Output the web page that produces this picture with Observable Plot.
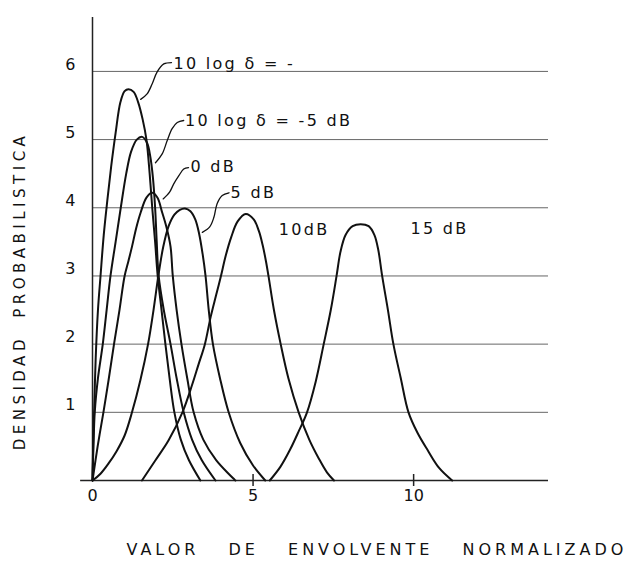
<!DOCTYPE html>
<html><head><meta charset="utf-8">
<script src="https://cdn.jsdelivr.net/npm/d3@7"></script>
<script src="https://cdn.jsdelivr.net/npm/@observablehq/plot@0.6"></script>
<style>
html,body{margin:0;padding:0;background:#fff;}
#chart svg{display:block;}
text{white-space:pre;}
.ytitle text{letter-spacing:4.5px;word-spacing:8px;}
.xtitle text{letter-spacing:4px;word-spacing:20px;}
.clabel text{letter-spacing:2.3px;}
</style></head><body><div id="chart"></div><script>
// ---- data ----
const seriesNames = ["-inf dB", "-5 dB", "0 dB", "5 dB", "10 dB", "15 dB"];

const xInf = [0,0.02,0.05,0.1,0.17,0.25,0.35,0.46,0.58,0.72,0.87,1.0,1.12,1.28,1.42,1.56,1.68,1.78,1.86,1.95,2.03,2.15,2.27,2.4,2.55,2.75,3.0,3.36];
const yInf = [0,0.5,1.0,1.8,2.5,3.0,3.6,4.1,4.6,5.1,5.55,5.71,5.74,5.7,5.55,5.3,5.0,4.5,4.0,3.5,3.0,2.5,2.0,1.5,1.0,0.6,0.3,0];

const xM5 = [0,0.03,0.07,0.17,0.32,0.44,0.56,0.72,0.88,1.05,1.2,1.38,1.55,1.7,1.8,1.88,1.95,2.0,2.06,2.22,2.43,2.62,2.84,3.1,3.4,3.83];
const yM5 = [0,0.5,1.0,1.5,2.0,2.5,3.0,3.5,4.0,4.5,4.82,5.0,5.04,4.95,4.75,4.45,4.0,3.5,3.0,2.5,2.0,1.5,1.0,0.6,0.3,0];

const x0 = [0,0.16,0.34,0.5,0.67,0.84,1.0,1.12,1.23,1.36,1.5,1.68,1.86,2.02,2.17,2.3,2.43,2.5,2.62,2.77,2.95,3.15,3.45,3.85,4.45];
const y0 = [0,0.5,1.0,1.47,2.0,2.5,3.0,3.22,3.43,3.7,3.93,4.15,4.22,4.15,3.93,3.72,3.43,3.0,2.5,2.0,1.5,1.0,0.6,0.3,0];

const x5 = [0,0.25,0.5,0.75,1.0,1.23,1.49,1.73,1.9,2.05,2.2,2.37,2.55,2.72,2.88,3.05,3.2,3.32,3.43,3.52,3.62,3.75,3.97,4.24,4.6,5.0,5.38];
const y5 = [0,0.1,0.25,0.43,0.66,1.0,1.47,2.0,2.5,3.0,3.42,3.73,3.9,3.97,3.99,3.95,3.83,3.62,3.32,3.0,2.5,2.0,1.5,1.0,0.55,0.22,0];

const x10 = [1.54,1.95,2.37,2.8,3.1,3.3,3.5,3.68,3.85,4.0,4.15,4.32,4.52,4.77,5.02,5.18,5.3,5.4,5.48,5.65,5.86,6.1,6.42,6.75,7.05,7.3,7.52];
const y10 = [0,0.29,0.59,1.0,1.4,1.7,2.0,2.4,2.72,3.0,3.3,3.57,3.8,3.91,3.83,3.66,3.45,3.22,3.0,2.5,2.0,1.5,1.0,0.6,0.32,0.12,0];

const x15 = [5.52,5.85,6.15,6.42,6.68,6.95,7.2,7.42,7.6,7.72,7.88,8.1,8.35,8.6,8.78,8.9,9.02,9.2,9.37,9.6,9.84,10.12,10.43,10.8,11.2];
const y15 = [0,0.2,0.45,0.72,1.0,1.45,2.0,2.5,3.0,3.35,3.6,3.73,3.76,3.73,3.6,3.38,3.0,2.5,2.0,1.5,1.0,0.7,0.45,0.18,0];

const yTicks = [1, 2, 3, 4, 5, 6];
const xTicks = [0, 5, 10];
const xTickMarks = [5, 10];

// curve labels (annotations)
const labelTexts = ["10 log δ = -", "10 log δ = -5 dB", "0 dB", "5 dB", "10dB", "15 dB"];
const labelX = [2.52, 2.88, 3.05, 4.3, 5.8, 9.9];
const labelY = [6.11, 5.27, 4.6, 4.22, 3.67, 3.69];

// leader lines (annotations)
const leaderIds = ["a", "b", "c", "d"];
const leaderXs = [
  [2.46, 2.22, 2.01, 1.86, 1.70, 1.50],
  [2.84, 2.64, 2.48, 2.33, 2.17, 1.96],
  [2.99, 2.84, 2.69, 2.53, 2.40, 2.20],
  [4.25, 4.04, 3.88, 3.78, 3.65, 3.42]
];
const leaderYs = [
  [6.13, 6.11, 5.99, 5.82, 5.67, 5.59],
  [5.28, 5.25, 5.16, 4.99, 4.79, 4.66],
  [4.59, 4.57, 4.47, 4.35, 4.23, 4.13],
  [4.22, 4.18, 4.06, 3.86, 3.72, 3.64]
];

// ---- build tables ----
const curveXs = [xInf, xM5, x0, x5, x10, x15];
const curveYs = [yInf, yM5, y0, y5, y10, y15];
const rows = seriesNames.flatMap((name, k) => curveXs[k].map((x, i) => ({series: name, x, y: curveYs[k][i]})));
const labels = labelTexts.map((t, i) => ({text: t, x: labelX[i], y: labelY[i]}));
const leaders = leaderIds.flatMap((id, k) => leaderXs[k].map((x, i) => ({id, x, y: leaderYs[k][i]})));

const chart = Plot.plot({
  width: 636,
  height: 561,
  marginLeft: 92,
  marginRight: 88,
  marginTop: 15,
  marginBottom: 81,
  x: {domain: [0, 14.2]},
  y: {domain: [0, 6.82]},
  style: {fontFamily: "'DejaVu Sans', sans-serif", fontSize: "16px", color: "#111", background: "#fff"},
  marks: [
    Plot.ruleY(yTicks, {x1: 0, x2: 14.2, stroke: "#666", strokeWidth: 1}),
    Plot.ruleY([0], {x1: -0.37, x2: 14.2, stroke: "#222", strokeWidth: 1.5}),
    Plot.ruleX([0], {y1: 0, y2: 6.79, stroke: "#222", strokeWidth: 1.5}),
    Plot.ruleX(xTickMarks, {y1: 0, y2: 0, insetTop: -6, insetBottom: -6, stroke: "#222", strokeWidth: 1.5}),
    Plot.axisY({ticks: yTicks, tickFormat: d => String(d), tickSize: 0, tickPadding: 17, fontSize: 16, label: null, dy: -7}),
    Plot.axisX({ticks: xTicks, tickFormat: d => String(d), tickSize: 0, tickPadding: 9, fontSize: 16, label: null}),
    Plot.line(rows, {x: "x", y: "y", z: "series", curve: "catmull-rom", stroke: "#111", strokeWidth: 2}),
    Plot.line(leaders, {x: "x", y: "y", z: "id", curve: "catmull-rom", stroke: "#111", strokeWidth: 1.3}),
    Plot.text(labels, {x: "x", y: "y", text: "text", textAnchor: "start", fontSize: 16, fill: "#111", className: "clabel"}),
    Plot.text(["DENSIDAD PROBABILISTICA"], {frameAnchor: "left", textAnchor: "middle", rotate: -90, dx: -72, dy: 43, fontSize: 15, fill: "#111", className: "ytitle"}),
    Plot.text(["VALOR DE ENVOLVENTE NORMALIZADO"], {frameAnchor: "bottom-left", textAnchor: "start", lineAnchor: "middle", dx: 34, dy: 69, fontSize: 16, fill: "#111", className: "xtitle"})
  ]
});
document.getElementById("chart").appendChild(chart);
</script></body></html>
